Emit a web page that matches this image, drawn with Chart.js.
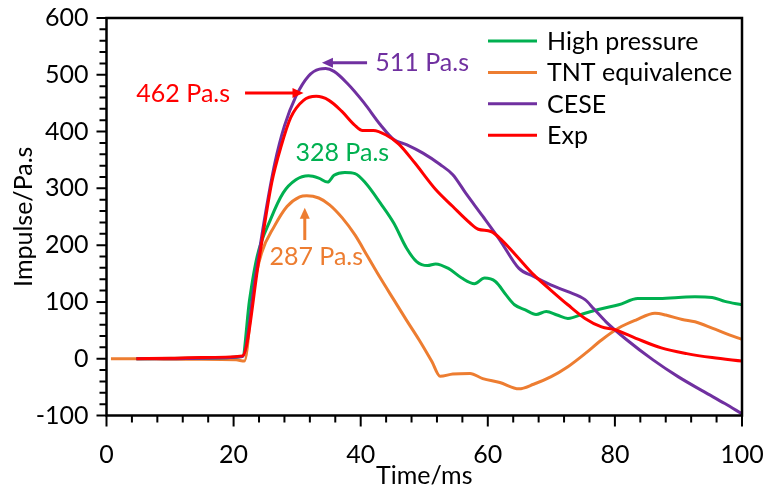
<!DOCTYPE html>
<html>
<head>
<meta charset="utf-8">
<script src="https://cdn.jsdelivr.net/npm/chart.js@4"></script>
<style>
  html, body { margin: 0; padding: 0; background: #fff; }
  #wrap { width: 766px; height: 491px; position: relative; }
</style>
</head>
<body>
<div id="wrap"><canvas id="myChart"></canvas></div>
<script>
// values
const hpTime = [4.7, 15, 21.4, 22.5, 23.7, 25.8, 27.8, 29.8, 31.8, 33.4, 34.8, 35.8, 37.5, 39.1, 40.8, 43.1, 45.2, 47.2, 48.8, 50.5, 51.8, 53.8, 55.9, 57.9, 59.5, 61.2, 62.9, 64.2, 65.9, 67.6, 69.2, 70.9, 72.6, 75.3, 77.9, 80.6, 83.6, 86.6, 90, 92.6, 95.3, 97.3, 100];
const hpImpulse = [0, 1, 4, 103, 180, 245, 292, 315, 322, 318, 311, 323, 328, 326, 309, 274, 239, 195, 171, 164, 167, 159, 142, 132, 142, 136, 112, 95, 86, 78, 83, 77, 71, 80, 88, 95, 106, 106, 108, 109, 108, 101, 95];

const tntTime = [0.7, 5, 10, 15, 20.4, 21.7, 23.1, 24.4, 26.4, 28.4, 30.4, 31.5, 33.4, 35.1, 37.1, 39.1, 41.1, 43.1, 45.2, 47.2, 49.2, 51.2, 52.5, 54.5, 57.2, 59.2, 61.9, 64.9, 67.2, 69.9, 72.6, 75.3, 77.9, 80.6, 83.3, 86.3, 88, 90.6, 92.6, 95.3, 98, 100];
const tntImpulse = [0, 0, -1, -1, -2, -4, 121, 186, 233, 268, 285, 287, 283, 271, 248, 218, 180, 142, 104, 68, 33, -5, -31, -27, -26, -35, -42, -53, -45, -32, -14, 9, 33, 54, 68, 80, 77, 69, 65, 54, 42, 34];

const ceseTime = [4.7, 10, 15, 21.4, 23.5, 25, 26.5, 28, 29.8, 31.8, 33.5, 34.5, 35.8, 37.8, 40.5, 43.1, 45.2, 47.2, 49.8, 52.5, 54.5, 56.5, 59.2, 61.9, 64.9, 67.2, 69.9, 72.6, 75.3, 76.6, 78.6, 81.9, 86, 90, 94, 97.3, 100];
const ceseImpulse = [0, 0, 1, 4, 150, 255, 345, 410, 462, 498, 510, 511, 506, 486, 451, 412, 386, 377, 362, 342, 324, 292, 251, 209, 159, 145, 130, 118, 104, 89, 65, 33, -2, -32, -58, -79, -97];

const expTime = [4.7, 10, 15, 21.4, 24, 26, 27.5, 29, 31, 33, 35, 37, 39, 40.3, 42, 44, 46, 48.5, 51.8, 54.5, 57.2, 58.5, 60.5, 62.2, 64.6, 67.2, 69.9, 72.6, 75.3, 77.9, 80, 83.3, 87.3, 91.3, 95.3, 100];
const expImpulse = [0, 1, 2, 5, 175, 310, 375, 425, 455, 462, 455, 436, 412, 402, 402, 394, 378, 345, 298, 268, 239, 228, 224, 209, 180, 148, 121, 95, 71, 56, 51, 36, 19, 9, 2, -4];

const seriesNames = ['High pressure', 'TNT equivalence', 'CESE', 'Exp'];
const seriesColors = ['#00B050', '#ED7D31', '#7030A0', '#FF0000'];

const yTicks = [-100, 0, 100, 200, 300, 400, 500, 600];
const xTicks = [0, 20, 40, 60, 80, 100];

// peak notes: text, colour, text anchor and arrow (data units)
const notes = [
  { text: '511 Pa.s', color: '#7030A0', tx: 42.3, ty: 521, align: 'left', from: [41.0, 521], to: [33.9, 521] },
  { text: '462 Pa.s', color: '#FF0000', tx: 4.7, ty: 466, align: 'left', from: [21.8, 468], to: [31.0, 468] },
  { text: '328 Pa.s', color: '#00B050', tx: 37.1, ty: 363, align: 'center' },
  { text: '287 Pa.s', color: '#ED7D31', tx: 33.0, ty: 180, align: 'center', from: [31.2, 209], to: [31.2, 266] }
];

const pairs = (xs, ys) => xs.map((x, i) => ({ x: x, y: ys[i] }));
const FONT = 'Lato, "Open Sans", sans-serif';
const FS = 25;

const frameAndTicks = {
  id: 'frameAndTicks',
  afterDatasetsDraw(chart) {
    const { ctx, chartArea: a, scales: { x, y } } = chart;
    ctx.save();
    ctx.strokeStyle = '#000';
    ctx.lineWidth = 2.5;
    ctx.strokeRect(a.left, a.top, a.right - a.left, a.bottom - a.top);
    ctx.lineWidth = 2;
    ctx.beginPath();
    for (let v = -100; v <= 600; v += 20) {
      const py = y.getPixelForValue(v);
      const len = v % 100 === 0 ? 10 : 7;
      ctx.moveTo(a.left - len, py);
      ctx.lineTo(a.left, py);
    }
    for (let v = 0; v <= 100; v += 4) {
      const px = x.getPixelForValue(v);
      const len = v % 20 === 0 ? 11 : 7;
      ctx.moveTo(px, a.bottom);
      ctx.lineTo(px, a.bottom + len);
    }
    ctx.stroke();
    ctx.restore();
  }
};

const peakNotes = {
  id: 'peakNotes',
  afterDatasetsDraw(chart) {
    const { ctx, scales: { x, y } } = chart;
    ctx.save();
    ctx.font = FS + 'px ' + FONT;
    ctx.textBaseline = 'middle';
    notes.forEach(n => {
      ctx.fillStyle = n.color;
      ctx.strokeStyle = n.color;
      ctx.textAlign = n.align;
      ctx.fillText(n.text, x.getPixelForValue(n.tx), y.getPixelForValue(n.ty));
      if (!n.from) return;
      const x1 = x.getPixelForValue(n.from[0]), y1 = y.getPixelForValue(n.from[1]);
      const x2 = x.getPixelForValue(n.to[0]), y2 = y.getPixelForValue(n.to[1]);
      const ang = Math.atan2(y2 - y1, x2 - x1);
      const head = 11;
      ctx.lineWidth = 3;
      ctx.beginPath();
      ctx.moveTo(x1, y1);
      ctx.lineTo(x2 - Math.cos(ang) * head * 0.8, y2 - Math.sin(ang) * head * 0.8);
      ctx.stroke();
      ctx.beginPath();
      ctx.moveTo(x2, y2);
      ctx.lineTo(x2 - Math.cos(ang) * head + Math.sin(ang) * 5, y2 - Math.sin(ang) * head - Math.cos(ang) * 5);
      ctx.lineTo(x2 - Math.cos(ang) * head - Math.sin(ang) * 5, y2 - Math.sin(ang) * head + Math.cos(ang) * 5);
      ctx.closePath();
      ctx.fill();
    });
    ctx.restore();
  }
};

const sideLegend = {
  id: 'sideLegend',
  afterDraw(chart) {
    const { ctx } = chart;
    ctx.save();
    ctx.font = FS + 'px ' + FONT;
    ctx.textBaseline = 'middle';
    ctx.textAlign = 'left';
    chart.data.datasets.forEach((ds, i) => {
      const yy = 41 + i * 31.4;
      ctx.strokeStyle = ds.borderColor;
      ctx.lineWidth = 3;
      ctx.beginPath();
      ctx.moveTo(488, yy);
      ctx.lineTo(537, yy);
      ctx.stroke();
      ctx.fillStyle = '#000';
      ctx.fillText(ds.label, 547, yy + 1);
    });
    ctx.restore();
  }
};

const datasets = [
  { data: pairs(hpTime, hpImpulse), order: 2 },
  { data: pairs(tntTime, tntImpulse), order: 3 },
  { data: pairs(ceseTime, ceseImpulse), order: 1 },
  { data: pairs(expTime, expImpulse), order: 0 }
].map((d, i) => Object.assign(d, {
  label: seriesNames[i],
  borderColor: seriesColors[i],
  backgroundColor: seriesColors[i],
  borderWidth: 3,
  pointRadius: 0,
  fill: false,
  cubicInterpolationMode: 'monotone'
}));

const ctx = document.getElementById('myChart');
const myChart = new Chart(ctx, {
  type: 'line',
  data: { datasets: datasets },
  options: {
    responsive: true,
    maintainAspectRatio: false,
    animation: false,
    layout: { padding: { left: 0, right: 24, top: 18, bottom: 0 } },
    plugins: {
      legend: { display: false },
      tooltip: { enabled: false }
    },
    scales: {
      x: {
        type: 'linear',
        min: 0,
        max: 100,
        afterBuildTicks: s => { s.ticks = xTicks.map(v => ({ value: v })); },
        ticks: { color: '#000', font: { family: FONT, size: FS }, padding: 24, maxRotation: 0 },
        grid: { display: false, drawTicks: false },
        border: { display: false },
        title: { display: true, text: 'Time/ms', color: '#000', font: { family: FONT, size: FS }, padding: { top: 0, bottom: 0 } },
        afterFit: s => { s.height = 75.5; s.paddingLeft = 0; s.paddingRight = 0; }
      },
      y: {
        type: 'linear',
        min: -100,
        max: 600,
        afterBuildTicks: s => { s.ticks = yTicks.map(v => ({ value: v })); },
        ticks: { color: '#000', font: { family: FONT, size: FS }, padding: 18 },
        grid: { display: false, drawTicks: false },
        border: { display: false },
        title: { display: true, text: 'Impulse/Pa.s', color: '#000', font: { family: FONT, size: FS }, padding: { top: 9, bottom: 0 } },
        afterFit: s => { s.width = 106.5; s.paddingTop = 0; s.paddingBottom = 0; }
      }
    }
  },
  plugins: [frameAndTicks, peakNotes, sideLegend]
});
</script>
</body>
</html>
